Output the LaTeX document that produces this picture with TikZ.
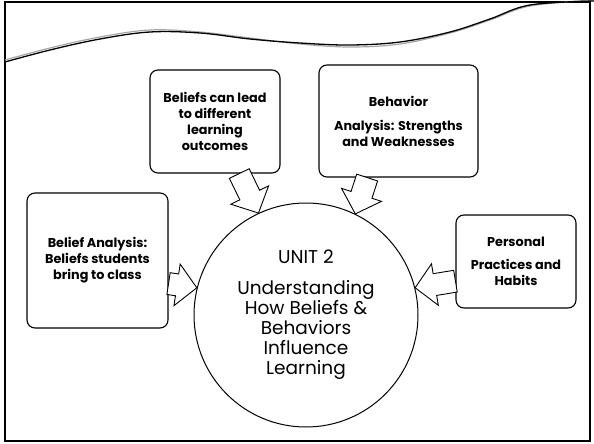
\documentclass[tikz,border=0pt]{standalone}
\usepackage{fontspec}
\setmainfont{Poppins}
\usetikzlibrary{calc}

\begin{document}
\begin{tikzpicture}[x=1pt, y=-1pt,
		box_style/.style={draw=black, line width=1.1pt, rounded corners=8pt, fill=white,
			align=center, inner sep=0pt, font=\bfseries\fontsize{12.8}{16}\selectfont},
		unit_style/.style={circle, draw=black, line width=1pt, fill=white, inner sep=0pt,
			minimum size=224pt, align=center, font=\fontsize{18.5}{20}\selectfont},
		arrow_style/.style={draw=black, line width=0.9pt, fill=white, line join=miter,
			to path={($(\tikztostart)!11pt!90:(\tikztotarget)$)
				-- ($(\tikztotarget)!20pt!(\tikztostart)!11pt!-90:(\tikztostart)$)
				-- ($(\tikztotarget)!20pt!(\tikztostart)!21pt!-90:(\tikztostart)$)
				-- (\tikztotarget)
				-- ($(\tikztotarget)!20pt!(\tikztostart)!21pt!90:(\tikztostart)$)
				-- ($(\tikztotarget)!20pt!(\tikztostart)!11pt!90:(\tikztostart)$)
				-- ($(\tikztostart)!11pt!-90:(\tikztotarget)$) -- cycle}}]
		
		\useasboundingbox (0,0) rectangle (594,444);
		\draw[line width=2pt] (5,2) rectangle (590,441);
		
		% wave at the top
		\draw[gray!70, line width=1.2pt] plot[smooth, tension=0.6] coordinates {(5,60) (50,48) (100,37) (150,30) (200,32) (250,38) (300,44) (350,47) (400,44) (450,33) (490,20) (530,6) (594,0)};
		\draw[black, line width=1.3pt] plot[smooth, tension=0.6] coordinates {(5,62) (50,50) (100,39) (150,32) (200,33) (250,39) (300,43) (350,45) (400,42) (450,32) (490,19) (530,5) (594,1)};
		
		\node[box_style, minimum width=130pt, minimum height=103pt] (b1) at (215,121.5)  {Beliefs can lead\\ to different\\ learning\\ outcomes};
		\node[box_style, minimum width=159pt, minimum height=112pt] (b2) at (398.5,121)  {Behavior\\[8pt] Analysis: Strengths\\ and Weaknesses};
		\node[box_style, minimum width=141pt, minimum height=135pt] (b3) at (97.5,260.5)  {Belief Analysis:\\ Beliefs students\\ bring to class};
		\node[box_style, minimum width=120pt, minimum height=93pt] (b4) at (516,261.5)  {Personal\\[7pt] Practices and\\ Habits};
		
		\node[unit_style] (unit) at (306,315)  {UNIT 2\\[11pt] Understanding\\ How Beliefs \&\\ Behaviors\\ Influence\\ Learning};
		
		\draw[arrow_style]  (b1.-65) to (unit.115);
		\draw[arrow_style]  (b2.-119) to (unit.64);
		\draw[arrow_style]  (b3.-18) to (unit.166);
		\draw[arrow_style]  (b4.198) to (unit.14);
		
\end{tikzpicture}
\end{document}
